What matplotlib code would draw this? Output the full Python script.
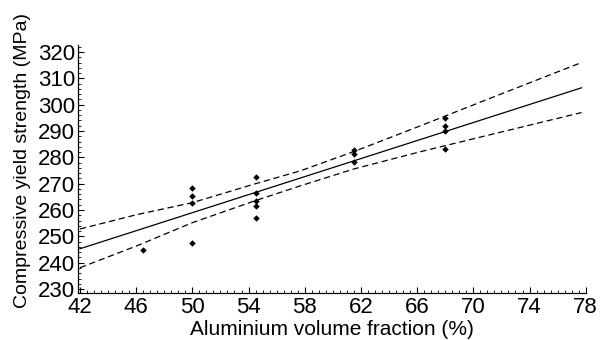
import numpy as np
import matplotlib
matplotlib.use("Agg")
from matplotlib import pyplot as plt
from matplotlib.ticker import MultipleLocator

plt.rcParams['font.family'] = ['Liberation Sans', 'DejaVu Sans']

# measured points (volume fraction %, strength MPa)
vol_x = [46.5, 50, 50, 50, 50, 54.5, 54.5, 54.5, 54.5, 54.5,
         61.5, 61.5, 61.5, 68, 68, 68, 68]
strength_y = [244.8, 268.5, 265.4, 262.5, 247.6, 272.6, 266.6, 263.5, 261.5, 256.8,
              282.8, 281.2, 278.1, 295.1, 291.9, 290.0, 283.0]

# regression line
fit_x = [42, 77.7]
fit_y = [245.3, 306.4]

# confidence band
band_x = [42, 46, 50, 54.5, 57.7, 61.5, 66.2, 71.9, 77.7]
band_upper = [252.8, 258.2, 262.8, 270.0, 274.9, 282.2, 291.9, 303.9, 316.0]
band_lower = [238.1, 246.3, 255.2, 263.6, 269.2, 275.6, 282.1, 289.5, 297.0]

xticks = [42, 46, 50, 54, 58, 62, 66, 70, 74, 78]
yticks = [230, 240, 250, 260, 270, 280, 290, 300, 310, 320]

fig = plt.figure(figsize=(6.06, 3.4), dpi=100)
ax = fig.add_axes([0.1287, 0.1382, 0.839, 0.7306])

ax.plot(fit_x, fit_y, color="black", lw=0.9)
ax.plot(band_x, band_upper, color="black", lw=0.9, dashes=(5, 3))
ax.plot(band_x, band_lower, color="black", lw=0.9, dashes=(5, 3))
ax.plot(vol_x, strength_y, "D", color="black", ms=3.3, mew=0)

ax.set_xlim(41.86, 78.05)
ax.set_ylim(228.5, 322.8)
ax.set_xticks(xticks)
ax.set_yticks(yticks)
ax.xaxis.set_minor_locator(MultipleLocator(0.5))
ax.yaxis.set_minor_locator(MultipleLocator(2))
ax.tick_params(which="major", direction="in", length=4, width=0.8, labelsize=16, pad=3)
ax.tick_params(axis="y", which="major", pad=2)
ax.tick_params(which="minor", direction="in", length=2.5, width=0.6)

for s in ["top", "right"]:
    ax.spines[s].set_visible(False)
for s in ["left", "bottom"]:
    ax.spines[s].set_linewidth(0.9)

ax.set_xlabel("Aluminium volume fraction (%)", fontsize=15, labelpad=1)
ax.set_ylabel("Compressive yield strength (MPa)", fontsize=14)
ax.yaxis.set_label_coords(-0.092, 0.535)

fig.savefig("out.png", dpi=100)
